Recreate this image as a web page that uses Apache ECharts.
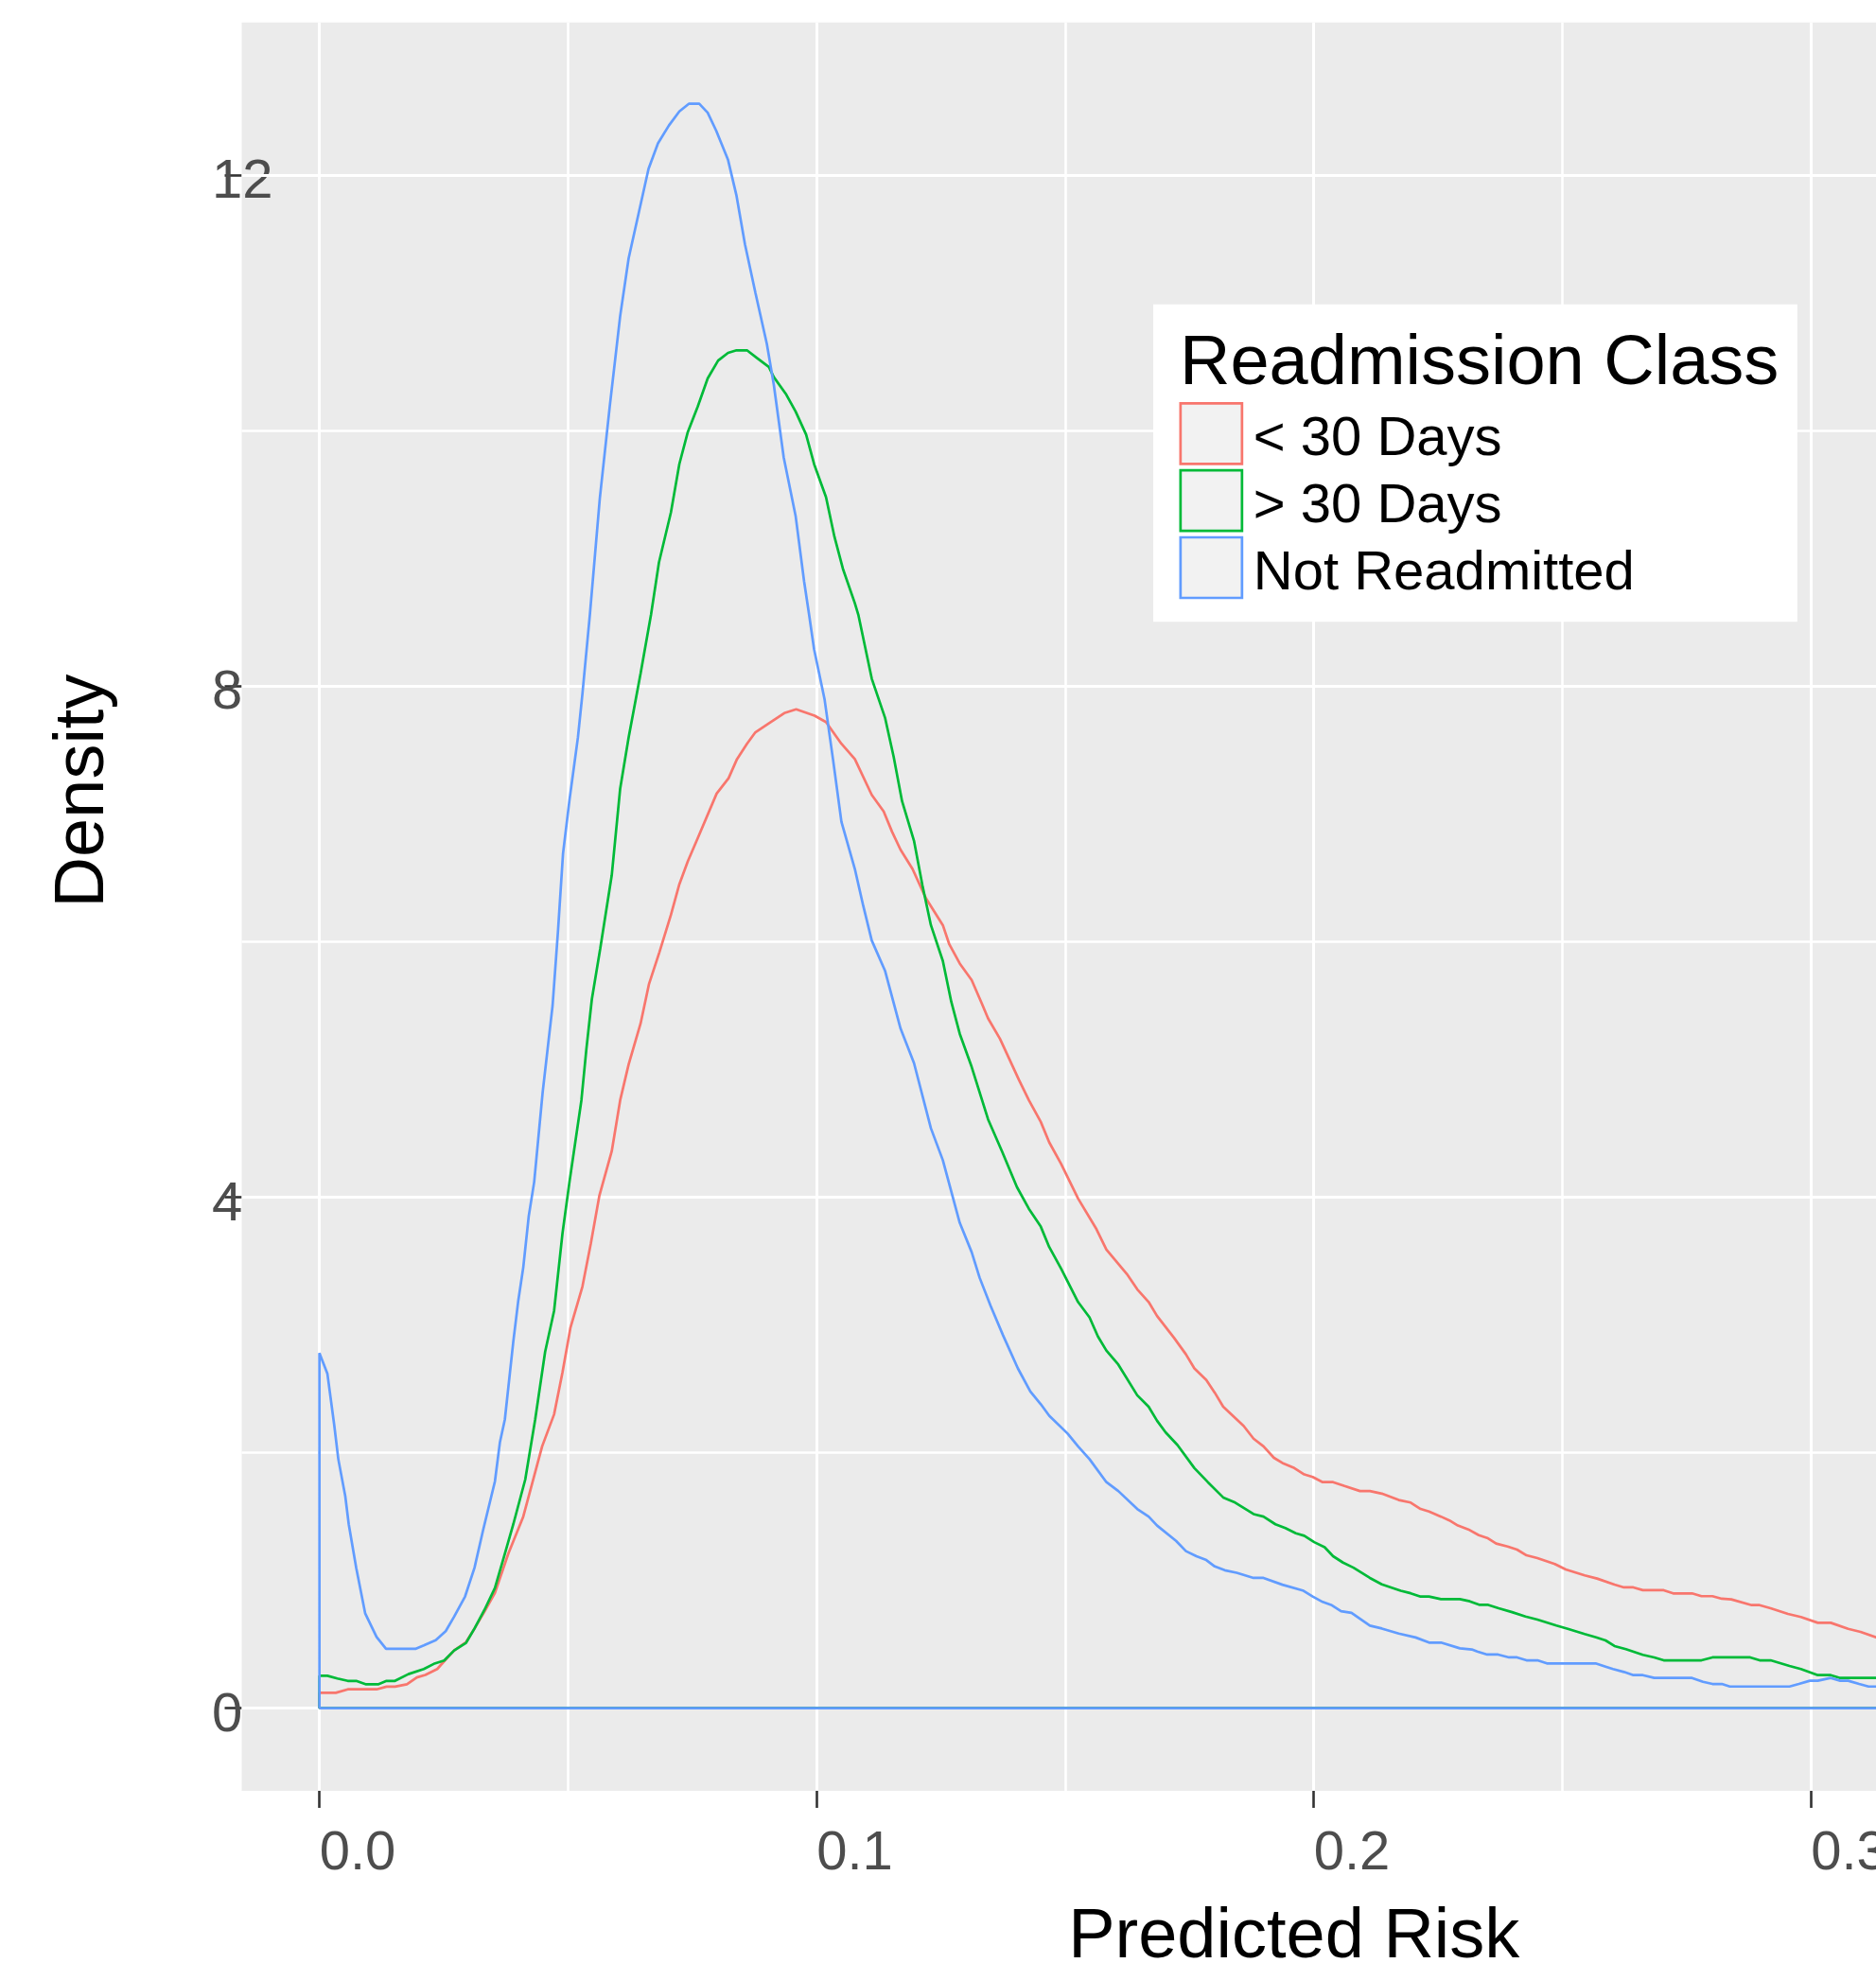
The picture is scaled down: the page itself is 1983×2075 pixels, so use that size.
<!DOCTYPE html>
<html>
<head>
<meta charset="utf-8">
<script src="https://cdn.jsdelivr.net/npm/echarts@6/dist/echarts.min.js"></script>
<style>
  html, body { margin: 0; padding: 0; background: #fff; }
  #chart { width: 1983px; height: 2075px; }
</style>
</head>
<body>
<div id="chart"></div>
<script>
// density curves: [predicted risk, density]
const lessThan30 = [
  [0, 0], [0, 0.121], [0.0033, 0.121], [0.0057, 0.148], [0.0115, 0.148], [0.0135, 0.169], [0.0152, 0.169],
  [0.0176, 0.187], [0.0196, 0.241], [0.0213, 0.261], [0.0237, 0.307], [0.0254, 0.381], [0.0271, 0.452],
  [0.0295, 0.518], [0.0312, 0.624], [0.0332, 0.756], [0.0353, 0.902], [0.0380, 1.21], [0.0410, 1.50],
  [0.0448, 2.05], [0.0472, 2.30], [0.0489, 2.63], [0.0505, 2.98], [0.0529, 3.30], [0.0546, 3.64],
  [0.0563, 4.01], [0.0588, 4.36], [0.0605, 4.76], [0.0622, 5.04], [0.0646, 5.36], [0.0663, 5.67],
  [0.0684, 5.92], [0.0707, 6.21], [0.0724, 6.45], [0.0741, 6.63], [0.0762, 6.82], [0.0799, 7.16],
  [0.0823, 7.28], [0.0840, 7.43], [0.0860, 7.55], [0.0877, 7.64], [0.0904, 7.71], [0.0935, 7.79],
  [0.0959, 7.82], [0.0996, 7.77], [0.1019, 7.72], [0.1050, 7.55], [0.1077, 7.43], [0.1111, 7.15],
  [0.1135, 7.02], [0.1152, 6.86], [0.1169, 6.72], [0.1193, 6.57], [0.1220, 6.34], [0.1254, 6.13],
  [0.1267, 5.98], [0.1288, 5.83], [0.1312, 5.70], [0.1332, 5.52], [0.1345, 5.40], [0.1369, 5.24],
  [0.1407, 4.92], [0.1427, 4.76], [0.1451, 4.59], [0.1468, 4.43], [0.1492, 4.26], [0.1526, 3.99],
  [0.1563, 3.75], [0.1583, 3.59], [0.1624, 3.40], [0.1645, 3.28], [0.1668, 3.18], [0.1685, 3.07],
  [0.1719, 2.90], [0.1743, 2.77], [0.1760, 2.66], [0.1784, 2.57], [0.1801, 2.47], [0.1818, 2.36],
  [0.1859, 2.21], [0.1879, 2.11], [0.1899, 2.05], [0.1920, 1.96], [0.1937, 1.92], [0.1961, 1.88],
  [0.1981, 1.83], [0.1998, 1.81], [0.2018, 1.77], [0.2039, 1.77], [0.2062, 1.74], [0.2093, 1.70],
  [0.2113, 1.70], [0.2137, 1.68], [0.2171, 1.63], [0.2195, 1.61], [0.2215, 1.56], [0.2232, 1.54],
  [0.2256, 1.50], [0.2273, 1.47], [0.2290, 1.43], [0.2311, 1.40], [0.2332, 1.355], [0.2349, 1.333],
  [0.2367, 1.289], [0.2390, 1.266], [0.2409, 1.242], [0.2428, 1.197], [0.2450, 1.175], [0.2485, 1.129],
  [0.2507, 1.086], [0.2545, 1.04], [0.2570, 1.015], [0.2605, 0.968], [0.2624, 0.946], [0.2643, 0.946],
  [0.2662, 0.924], [0.2704, 0.924], [0.2723, 0.899], [0.2761, 0.899], [0.2780, 0.877], [0.2802, 0.877],
  [0.2821, 0.857], [0.2840, 0.852], [0.2881, 0.807], [0.2897, 0.807], [0.2919, 0.783], [0.2954, 0.738],
  [0.2980, 0.714], [0.3014, 0.669], [0.3040, 0.669], [0.3075, 0.622], [0.3100, 0.598], [0.3131, 0.555],
  [0.3140, 0.545], [0.3140, 0], [0, 0]
]

const moreThan30 = [
  [0, 0], [0, 0.254], [0.0016, 0.254], [0.0036, 0.233], [0.0057, 0.214], [0.0074, 0.214], [0.0094, 0.187],
  [0.0118, 0.187], [0.0135, 0.214], [0.0152, 0.214], [0.0179, 0.267], [0.0210, 0.307], [0.0230, 0.347],
  [0.0251, 0.373], [0.0271, 0.452], [0.0295, 0.512], [0.0312, 0.624], [0.0332, 0.77], [0.0353, 0.941],
  [0.0373, 1.21], [0.0390, 1.44], [0.0414, 1.79], [0.0434, 2.26], [0.0454, 2.79], [0.0472, 3.11],
  [0.0489, 3.72], [0.0503, 4.12], [0.0527, 4.76], [0.0537, 5.16], [0.0548, 5.55], [0.0565, 5.95],
  [0.0588, 6.52], [0.0605, 7.20], [0.0622, 7.60], [0.0646, 8.10], [0.0667, 8.56], [0.0683, 8.97],
  [0.0707, 9.36], [0.0724, 9.74], [0.0741, 9.99], [0.0761, 10.19], [0.0781, 10.41], [0.0802, 10.55],
  [0.0822, 10.61], [0.0839, 10.63], [0.0860, 10.63], [0.0880, 10.57], [0.0904, 10.50], [0.0914, 10.42],
  [0.0938, 10.29], [0.0958, 10.15], [0.0979, 9.97], [0.0995, 9.74], [0.1019, 9.48], [0.1036, 9.17],
  [0.1053, 8.92], [0.1077, 8.65], [0.1084, 8.56], [0.1111, 8.06], [0.1138, 7.75], [0.1155, 7.45],
  [0.1172, 7.10], [0.1196, 6.79], [0.1213, 6.44], [0.1230, 6.13], [0.1254, 5.85], [0.1271, 5.53],
  [0.1288, 5.28], [0.1312, 5.02], [0.1345, 4.61], [0.1373, 4.36], [0.1403, 4.08], [0.1427, 3.91],
  [0.1451, 3.77], [0.1468, 3.61], [0.1492, 3.44], [0.1526, 3.18], [0.1549, 3.06], [0.1566, 2.91],
  [0.1583, 2.80], [0.1607, 2.69], [0.1645, 2.45], [0.1668, 2.36], [0.1685, 2.25], [0.1702, 2.16],
  [0.1726, 2.06], [0.1760, 1.88], [0.1787, 1.77], [0.1818, 1.65], [0.1842, 1.61], [0.1879, 1.52],
  [0.1899, 1.50], [0.1923, 1.44], [0.1943, 1.41], [0.1964, 1.37], [0.1981, 1.35], [0.2001, 1.30],
  [0.2022, 1.26], [0.2039, 1.19], [0.2059, 1.14], [0.2080, 1.10], [0.2113, 1.02], [0.2137, 0.97],
  [0.2175, 0.92], [0.2195, 0.90], [0.2215, 0.874], [0.2232, 0.874], [0.2256, 0.854], [0.2294, 0.854],
  [0.2314, 0.837], [0.2334, 0.809], [0.2351, 0.809], [0.2372, 0.783], [0.2399, 0.752], [0.2426, 0.718],
  [0.2450, 0.694], [0.2488, 0.647], [0.2511, 0.622], [0.2545, 0.581], [0.2568, 0.555], [0.2587, 0.531],
  [0.2605, 0.487], [0.2628, 0.462], [0.2662, 0.418], [0.2685, 0.398], [0.2704, 0.375], [0.2780, 0.375],
  [0.2802, 0.398], [0.2878, 0.398], [0.2897, 0.375], [0.2919, 0.375], [0.2957, 0.331], [0.2980, 0.307],
  [0.3014, 0.259], [0.3040, 0.259], [0.3059, 0.237], [0.3140, 0.237], [0.3140, 0], [0, 0]
]

const notReadmitted = [
  [0, 0], [0, 2.78], [0.0016, 2.62], [0.0030, 2.21], [0.0038, 1.95], [0.0052, 1.66], [0.0059, 1.44],
  [0.0074, 1.10], [0.0092, 0.743], [0.0115, 0.558], [0.0134, 0.465], [0.0193, 0.465], [0.0210, 0.492],
  [0.0234, 0.532], [0.0254, 0.603], [0.0271, 0.717], [0.0293, 0.875], [0.0312, 1.10], [0.0329, 1.39],
  [0.0353, 1.775], [0.0363, 2.08], [0.0373, 2.26], [0.0390, 2.87], [0.0400, 3.19], [0.0410, 3.45],
  [0.0421, 3.85], [0.0432, 4.12], [0.0449, 4.82], [0.0459, 5.16], [0.0469, 5.50], [0.0480, 6.09],
  [0.0490, 6.69], [0.0503, 7.11], [0.0520, 7.60], [0.0529, 7.94], [0.0544, 8.56], [0.0564, 9.47],
  [0.0584, 10.19], [0.0605, 10.90], [0.0622, 11.35], [0.0642, 11.70], [0.0662, 12.05], [0.0681, 12.25],
  [0.0703, 12.39], [0.0724, 12.50], [0.0743, 12.56], [0.0764, 12.56], [0.0781, 12.49], [0.0798, 12.35],
  [0.0822, 12.12], [0.0839, 11.84], [0.0856, 11.46], [0.0877, 11.08], [0.0900, 10.68], [0.0914, 10.36],
  [0.0934, 9.79], [0.0958, 9.33], [0.0975, 8.82], [0.0985, 8.56], [0.0995, 8.29], [0.1016, 7.90],
  [0.1033, 7.43], [0.1050, 6.94], [0.1077, 6.57], [0.1094, 6.28], [0.1111, 6.01], [0.1138, 5.77],
  [0.1169, 5.32], [0.1196, 5.05], [0.1230, 4.54], [0.1254, 4.29], [0.1288, 3.80], [0.1312, 3.57],
  [0.1328, 3.37], [0.1350, 3.15], [0.1375, 2.92], [0.1405, 2.66], [0.1430, 2.48], [0.1451, 2.38],
  [0.1468, 2.29], [0.1505, 2.15], [0.1526, 2.05], [0.1549, 1.95], [0.1583, 1.77], [0.1607, 1.70],
  [0.1645, 1.56], [0.1668, 1.50], [0.1685, 1.43], [0.1723, 1.31], [0.1743, 1.23], [0.1764, 1.19],
  [0.1784, 1.16], [0.1801, 1.11], [0.1821, 1.08], [0.1845, 1.06], [0.1879, 1.02], [0.1899, 1.02],
  [0.1937, 0.967], [0.1978, 0.922], [0.1998, 0.874], [0.2018, 0.832], [0.2035, 0.809], [0.2055, 0.76],
  [0.2076, 0.746], [0.2113, 0.647], [0.2137, 0.624], [0.2171, 0.585], [0.2205, 0.554], [0.2232, 0.514],
  [0.2256, 0.514], [0.2294, 0.469], [0.2318, 0.46], [0.2329, 0.444], [0.2349, 0.42], [0.2371, 0.42],
  [0.2393, 0.398], [0.2409, 0.398], [0.2428, 0.375], [0.2450, 0.375], [0.2469, 0.351], [0.2567, 0.351],
  [0.2587, 0.326], [0.2602, 0.307], [0.2624, 0.284], [0.2643, 0.259], [0.2662, 0.259], [0.2685, 0.237],
  [0.2761, 0.237], [0.2783, 0.207], [0.2802, 0.19], [0.2821, 0.19], [0.2837, 0.17], [0.2957, 0.17],
  [0.2976, 0.19], [0.2998, 0.215], [0.3014, 0.215], [0.3040, 0.237], [0.3059, 0.215], [0.3075, 0.215],
  [0.3097, 0.19], [0.3116, 0.17], [0.3140, 0.17], [0.3140, 0], [0, 0]
]

const seriesNames = ['< 30 Days', '> 30 Days', 'Not Readmitted']
const seriesColors = ['#F8766D', '#00BA38', '#619CFF']
const xTicks = [0, 0.1, 0.2, 0.3, 0.4]
const xMinorGrid = [0.05, 0.15, 0.25, 0.35]
const yTicks = [0, 4, 8, 12]
const yMinorGrid = [2, 6, 10]

const FONT = 'Liberation Sans, Arial, sans-serif'

const chart = echarts.init(document.getElementById('chart'), null, { renderer: 'canvas' })

// panel gridlines (drawn as mark lines so they can sit on round values)
const gridLines = [
  ...yTicks.map(v => ({ yAxis: v, lineStyle: { width: 3 } })),
  ...yMinorGrid.map(v => ({ yAxis: v, lineStyle: { width: 2.6 } })),
  ...xTicks.map(v => ({ xAxis: v, lineStyle: { width: 3 } })),
  ...xMinorGrid.map(v => ({ xAxis: v, lineStyle: { width: 2.6 } })),
]

const curves = [lessThan30, moreThan30, notReadmitted].map((d, i) => ({
  name: seriesNames[i],
  type: 'line',
  data: d,
  symbol: 'none',
  showSymbol: false,
  z: 3 + i,
  lineStyle: { color: seriesColors[i], width: 2.7 },
  itemStyle: { color: seriesColors[i] },
}))

const option = {
  animation: false,
  backgroundColor: '#fff',
  textStyle: { fontFamily: FONT },
  grid: {
    left: 255.5,
    top: 23.8,
    width: 2224.5,
    height: 1869.2,
    outerBoundsMode: 'none',
    containLabel: false,
    show: true,
    backgroundColor: '#EBEBEB',
    borderWidth: 0,
  },
  title: {
    text: 'Readmission Class',
    left: 1247,
    top: 349,
    padding: 0,
    z: 20,
    textStyle: { fontFamily: FONT, fontSize: 74, fontWeight: 'normal', color: '#000' },
  },
  legend: {
    orient: 'vertical',
    left: 1219,
    top: 321.7,
    padding: [103.25, 172, 21.25, 27.5],
    backgroundColor: '#fff',
    itemWidth: 65,
    itemHeight: 64,
    itemGap: 1.5,
    selectedMode: false,
    z: 15,
    formatter: name => '{t|' + name + '}',
    textStyle: {
      fontFamily: FONT,
      fontSize: 58,
      color: '#000',
      rich: {
        t: { fontFamily: FONT, fontSize: 58, color: '#000', padding: [14, 0, 0, 7] },
      },
    },
    data: seriesNames.map((n, i) => ({
      name: n,
      icon: 'rect',
      itemStyle: { color: '#F2F2F2', borderColor: seriesColors[i], borderWidth: 2.7 },
    })),
  },
  graphic: [
    {
      type: 'text',
      x: 89,
      y: 836,
      rotation: Math.PI / 2,
      style: {
        text: 'Density',
        font: '74px ' + FONT,
        fill: '#000',
        textAlign: 'center',
        textVerticalAlign: 'middle',
      },
    },
  ],
  xAxis: {
    type: 'value',
    min: -0.01563,
    max: 0.40768,
    name: 'Predicted Risk',
    nameLocation: 'middle',
    nameGap: 119,
    nameTextStyle: { fontFamily: FONT, fontSize: 74, color: '#000' },
    splitLine: { show: false },
    axisLine: { show: false, onZero: false },
    axisTick: {
      show: true,
      length: 18,
      customValues: xTicks,
      lineStyle: { color: '#333', width: 2.6 },
    },
    axisLabel: {
      customValues: xTicks,
      formatter: v => v.toFixed(1),
      align: 'left',
      margin: 38,
      fontFamily: FONT,
      fontSize: 58,
      color: '#4D4D4D',
    },
  },
  yAxis: {
    type: 'value',
    min: -0.6466,
    max: 13.196,
    splitLine: { show: false },
    axisLine: { show: false, onZero: false },
    axisTick: {
      show: true,
      length: 18,
      customValues: yTicks,
      lineStyle: { color: '#333', width: 2.6 },
    },
    axisLabel: {
      customValues: yTicks,
      align: 'left',
      margin: 31.5,
      formatter: v => '{n|' + v + '}',
      rich: {
        n: { fontFamily: FONT, fontSize: 58, color: '#4D4D4D', padding: [16, 0, 0, 0] },
      },
      fontFamily: FONT,
      fontSize: 58,
      color: '#4D4D4D',
    },
  },
  series: [
    {
      type: 'line',
      data: [],
      z: 1,
      silent: true,
      markLine: {
        silent: true,
        z: 1,
        symbol: 'none',
        label: { show: false },
        lineStyle: { color: '#fff', type: 'solid' },
        emphasis: { disabled: true },
        data: gridLines,
      },
    },
    ...curves,
  ],
}

chart.setOption(option)
</script>
</body>
</html>
